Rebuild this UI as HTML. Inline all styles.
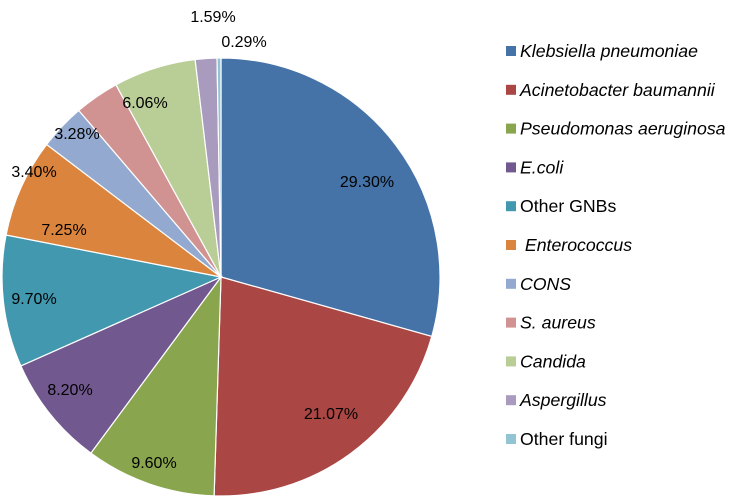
<!DOCTYPE html>
<html><head><meta charset="utf-8"><style>
html,body{margin:0;padding:0;background:#fff;}
svg{display:block;font-family:"Liberation Sans",sans-serif;}
</style></head><body>
<svg id="s" width="750" height="498" viewBox="0 0 750 498"></svg>
<script>
const vals=[29.30,21.07,9.60,8.20,9.70,7.25,3.40,3.28,6.06,1.59,0.29];
const cols=["#4572A7","#AA4643","#89A54E","#71588F","#4198AF","#DB843D","#93A9CF","#D19392","#B9CD96","#A99BBD","#92C4D3"];
const names=["Klebsiella pneumoniae","Acinetobacter baumannii","Pseudomonas aeruginosa","E.coli","Other GNBs"," Enterococcus","CONS","S. aureus","Candida","Aspergillus","Other fungi"];
const ital=[1,1,1,1,0,1,1,1,1,1,0];
const lab=[[367,187],[331,419],[154,468],[70,395],[34,304],[64,235],[34,177],[77,139],[145,108],[213,22],[244,47]];
const cx=221,cy=277,r=219;
const tot=vals.reduce((a,b)=>a+b,0);
let a=-Math.PI/2, h="";
vals.forEach((v,i)=>{
 const b=a+v/tot*2*Math.PI;
 const x1=cx+r*Math.cos(a),y1=cy+r*Math.sin(a),x2=cx+r*Math.cos(b),y2=cy+r*Math.sin(b);
 h+=`<path d="M${cx},${cy}L${x1},${y1}A${r},${r} 0 ${b-a>Math.PI?1:0} 1 ${x2},${y2}Z" fill="${cols[i]}" stroke="#fff" stroke-width="1.2"/>`;
 a=b;
});
vals.forEach((v,i)=>{h+=`<text x="${lab[i][0]}" y="${lab[i][1]}" font-size="16" text-anchor="middle" fill="#000">${v.toFixed(2)}%</text>`;});
names.forEach((n,i)=>{
 const y=51+i*38.8;
 h+=`<rect x="506" y="${y-5}" width="10" height="10" fill="${cols[i]}"/>`;
 h+=`<text x="520" y="${y+6}" font-size="17.7" ${ital[i]?'font-style="italic"':''} fill="#000" xml:space="preserve">${n}</text>`;
});
document.getElementById("s").innerHTML=h;
</script>
</body></html>
